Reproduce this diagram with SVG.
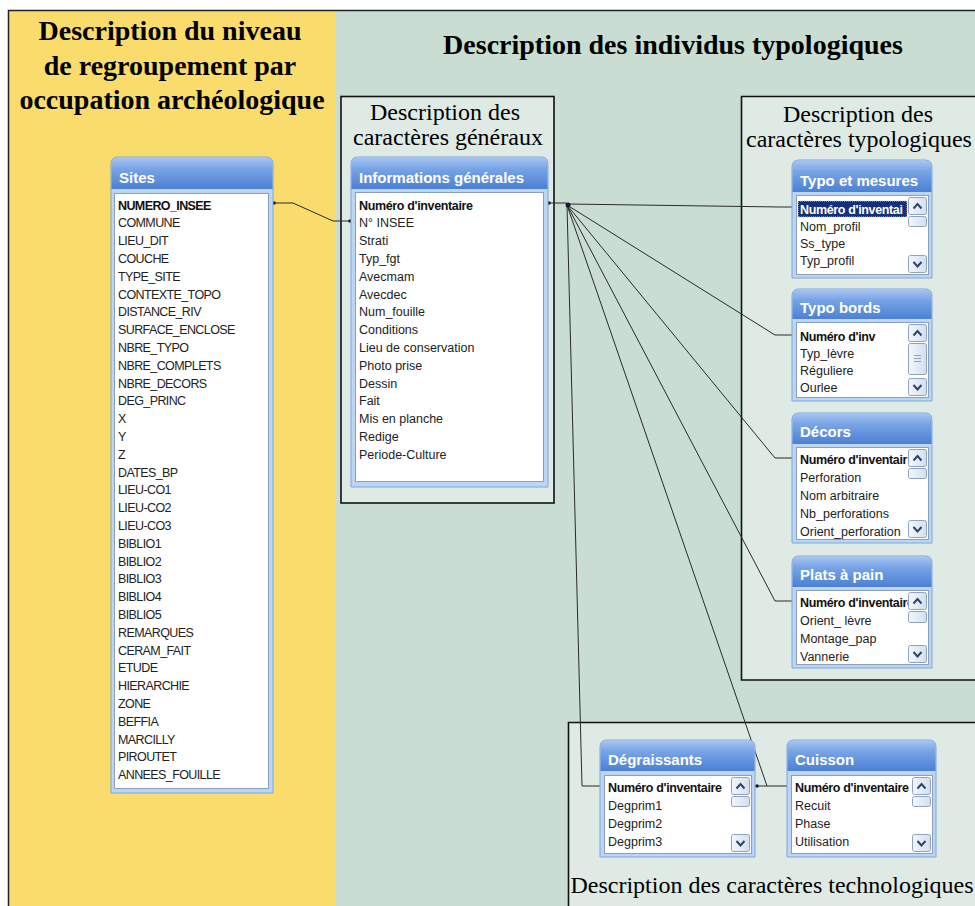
<svg xmlns="http://www.w3.org/2000/svg" width="975" height="906" viewBox="0 0 975 906">
<defs>
<linearGradient id="hdr" x1="0" y1="0" x2="0" y2="1">
<stop offset="0" stop-color="#a7c6f1"/>
<stop offset="0.35" stop-color="#79a4e6"/>
<stop offset="1" stop-color="#4b80d3"/>
</linearGradient>
<linearGradient id="btn" x1="0" y1="0" x2="1" y2="0">
<stop offset="0" stop-color="#f4f7fc"/>
<stop offset="1" stop-color="#d3def0"/>
</linearGradient>
<style>
.title{font-family:"Liberation Serif","Times New Roman",serif;font-weight:bold;font-size:28px;fill:#000;text-anchor:middle}
.sub{font-family:"Liberation Serif","Times New Roman",serif;font-size:24px;fill:#000;text-anchor:middle}
.box{fill:#dfeae5;stroke:#111;stroke-width:1.6}
.boxfill{fill:#dfeae5}
.boxline{fill:none;stroke:#111;stroke-width:1.6}
.win{fill:#bcd5f3;stroke:#7fa6dd;stroke-width:1}
.hd{fill:url(#hdr)}
.lb{fill:#fff;stroke:#8c9fb8;stroke-width:1}
.ht{font-family:"Liberation Sans",Arial,sans-serif;font-weight:bold;font-size:15px;fill:#fff}
.f{font-family:"Liberation Sans",Arial,sans-serif;font-size:12.5px;fill:#222}
.fu{font-family:"Liberation Sans",Arial,sans-serif;font-size:12.5px;fill:#222;letter-spacing:-0.6px}
.fb{font-family:"Liberation Sans",Arial,sans-serif;font-size:12.5px;fill:#111;font-weight:bold;letter-spacing:-0.35px}
.fbu{font-family:"Liberation Sans",Arial,sans-serif;font-size:12.5px;fill:#111;font-weight:bold;letter-spacing:-0.6px}
.sel{font-family:"Liberation Sans",Arial,sans-serif;font-size:12.5px;fill:#fff;font-weight:bold;letter-spacing:-0.35px}
.bt{fill:url(#btn);stroke:#8fa3c0;stroke-width:1}
.chev{fill:none;stroke:#2f4468;stroke-width:2}
.grip{stroke:#8fa3c0;stroke-width:1}
.cn{fill:none;stroke:#2a2a2a;stroke-width:1}
.dot{fill:#1a1a2a}
</style>
</defs>

<!-- background -->
<rect x="0" y="0" width="975" height="906" fill="#ffffff"/>
<rect x="8" y="10" width="328" height="896" fill="#f9dc6b"/>
<rect x="336" y="10" width="639" height="896" fill="#c9ddd3"/>
<path d="M8.5,906 V10.5 H975" fill="none" stroke="#222" stroke-width="1.5"/>

<!-- titles -->
<g id="title-left">
<text class="title" x="170" y="40">Description du niveau</text>
<text class="title" x="170" y="75">de regroupement par</text>
<text class="title" x="172" y="109">occupation archéologique</text>
</g>
<g id="title-right">
<text class="title" x="673" y="54">Description des individus typologiques</text>
</g>

<!-- description boxes -->
<g id="box-generaux">
<rect class="box" x="341" y="96.5" width="213" height="406.5"/>
<text class="sub" x="445" y="120">Description des</text>
<text class="sub" x="448" y="145">caractères généraux</text>
</g>
<g id="box-typo">
<rect class="boxfill" x="741.5" y="96.5" width="240" height="583.5"/>
<path class="boxline" d="M980,96.5 H741.5 V680 H980"/>
<text class="sub" x="858" y="122">Description des</text>
<text class="sub" x="859" y="147">caractères typologiques</text>
</g>
<g id="box-techno">
<rect class="boxfill" x="568.5" y="722.5" width="412" height="190"/>
<path class="boxline" d="M568.5,910 V722.5 H980"/>
<text class="sub" x="772" y="893">Description des caractères technologiques</text>
</g>

<!-- connectors -->
<g id="connectors">
<path class="cn" d="M273,203 H293 L333,221 H351"/>
<path class="cn" d="M548,203 H567"/>
<path class="cn" d="M567,204 L780,207 H796"/>
<path class="cn" d="M567,205 L775,335 H796"/>
<path class="cn" d="M567,205 L775,458 H796"/>
<path class="cn" d="M567,205 L775,601 H796"/>
<path class="cn" d="M567,205 L582,786 H604"/>
<path class="cn" d="M567,205 L767,786"/>
<path class="cn" d="M755,786 H791"/>
<circle class="dot" cx="274" cy="203" r="1.8"/>
<circle class="dot" cx="350" cy="221" r="1.8"/>
<circle class="dot" cx="549" cy="203" r="1.8"/>
<circle class="dot" cx="568" cy="205" r="2.5"/>
<circle class="dot" cx="794" cy="207" r="1.8"/>
<circle class="dot" cx="794" cy="335" r="1.8"/>
<circle class="dot" cx="794" cy="458" r="1.8"/>
<circle class="dot" cx="794" cy="601" r="1.8"/>
<circle class="dot" cx="602" cy="786" r="1.8"/>
<circle class="dot" cx="757" cy="786" r="1.8"/>
<circle class="dot" cx="789" cy="786" r="1.8"/>
</g>

<!-- Sites -->
<g id="sites">
<path class="win" d="M111,793 V164 Q111,157 118,157 H266 Q273,157 273,164 V793 Z"/>
<path class="hd" d="M111.5,189 V164 Q111.5,157.5 118,157.5 H266 Q272.5,157.5 272.5,164 V189 Z"/>
<text class="ht" x="119" y="183">Sites</text>
<rect class="lb" x="114.5" y="193.5" width="154" height="595"/>
<text class="fbu" x="118" y="209.5">NUMERO_INSEE</text>
<text class="fu" x="118" y="227.3">COMMUNE</text>
<text class="fu" x="118" y="245.1">LIEU_DIT</text>
<text class="fu" x="118" y="262.9">COUCHE</text>
<text class="fu" x="118" y="280.7">TYPE_SITE</text>
<text class="fu" x="118" y="298.5">CONTEXTE_TOPO</text>
<text class="fu" x="118" y="316.3">DISTANCE_RIV</text>
<text class="fu" x="118" y="334.1">SURFACE_ENCLOSE</text>
<text class="fu" x="118" y="351.9">NBRE_TYPO</text>
<text class="fu" x="118" y="369.7">NBRE_COMPLETS</text>
<text class="fu" x="118" y="387.5">NBRE_DECORS</text>
<text class="fu" x="118" y="405.3">DEG_PRINC</text>
<text class="fu" x="118" y="423.1">X</text>
<text class="fu" x="118" y="440.9">Y</text>
<text class="fu" x="118" y="458.7">Z</text>
<text class="fu" x="118" y="476.5">DATES_BP</text>
<text class="fu" x="118" y="494.3">LIEU-CO1</text>
<text class="fu" x="118" y="512.1">LIEU-CO2</text>
<text class="fu" x="118" y="529.9">LIEU-CO3</text>
<text class="fu" x="118" y="547.7">BIBLIO1</text>
<text class="fu" x="118" y="565.5">BIBLIO2</text>
<text class="fu" x="118" y="583.3">BIBLIO3</text>
<text class="fu" x="118" y="601.1">BIBLIO4</text>
<text class="fu" x="118" y="618.9">BIBLIO5</text>
<text class="fu" x="118" y="636.7">REMARQUES</text>
<text class="fu" x="118" y="654.5">CERAM_FAIT</text>
<text class="fu" x="118" y="672.3">ETUDE</text>
<text class="fu" x="118" y="690.1">HIERARCHIE</text>
<text class="fu" x="118" y="707.9">ZONE</text>
<text class="fu" x="118" y="725.7">BEFFIA</text>
<text class="fu" x="118" y="743.5">MARCILLY</text>
<text class="fu" x="118" y="761.3">PIROUTET</text>
<text class="fu" x="118" y="779.1">ANNEES_FOUILLE</text>
</g>

<!-- Informations générales -->
<g id="infos-generales">
<path class="win" d="M351,487 V164 Q351,157 358,157 H541 Q548,157 548,164 V487 Z"/>
<path class="hd" d="M351.5,189 V164 Q351.5,157.5 358,157.5 H541 Q547.5,157.5 547.5,164 V189 Z"/>
<text class="ht" x="359" y="183">Informations générales</text>
<rect class="lb" x="355.5" y="192.5" width="188" height="289"/>
<text class="fb" x="359" y="209.5">Numéro d'inventaire</text>
<text class="f" x="359" y="227.3">N° INSEE</text>
<text class="f" x="359" y="245.1">Strati</text>
<text class="f" x="359" y="262.9">Typ_fgt</text>
<text class="f" x="359" y="280.7">Avecmam</text>
<text class="f" x="359" y="298.5">Avecdec</text>
<text class="f" x="359" y="316.3">Num_fouille</text>
<text class="f" x="359" y="334.1">Conditions</text>
<text class="f" x="359" y="351.9">Lieu de conservation</text>
<text class="f" x="359" y="369.7">Photo prise</text>
<text class="f" x="359" y="387.5">Dessin</text>
<text class="f" x="359" y="405.3">Fait</text>
<text class="f" x="359" y="423.1">Mis en planche</text>
<text class="f" x="359" y="440.9">Redige</text>
<text class="f" x="359" y="458.7">Periode-Culture</text>
</g>

<!-- Typo et mesures -->
<g id="typo-mesures">
<path class="win" d="M792,278 V167 Q792,160 799,160 H925 Q932,160 932,167 V278 Z"/>
<path class="hd" d="M792.5,192 V167 Q792.5,160.5 799,160.5 H925 Q931.5,160.5 931.5,167 V192 Z"/>
<text class="ht" x="800" y="186">Typo et mesures</text>
<rect class="lb" x="796.5" y="195.5" width="132" height="79"/>
<rect x="798" y="201" width="109" height="16" fill="#14307a" stroke="#ccd" stroke-dasharray="1 1"/>
<text class="sel" x="800" y="213.5">Numéro d'inventai</text>
<text class="f" x="800" y="230.5">Nom_profil</text>
<text class="f" x="800" y="247.5">Ss_type</text>
<text class="f" x="800" y="265">Typ_profil</text>
<rect class="bt" x="908.5" y="197.5" width="18" height="17" rx="2"/>
<polyline class="chev" points="913.5,208.5 917.5,204 921.5,208.5"/>
<rect class="bt" x="908.5" y="216.5" width="18" height="10" rx="2"/>
<rect class="bt" x="908.5" y="255.5" width="18" height="17" rx="2"/>
<polyline class="chev" points="913.5,262 917.5,266.5 921.5,262"/>
</g>

<!-- Typo bords -->
<g id="typo-bords">
<path class="win" d="M792,401 V296 Q792,289 799,289 H925 Q932,289 932,296 V401 Z"/>
<path class="hd" d="M792.5,319 V296 Q792.5,289.5 799,289.5 H925 Q931.5,289.5 931.5,296 V319 Z"/>
<text class="ht" x="800" y="313">Typo bords</text>
<rect class="lb" x="796.5" y="322.5" width="132" height="75"/>
<text class="fb" x="800" y="340.5">Numéro d'inv</text>
<text class="f" x="800" y="357.5">Typ_lèvre</text>
<text class="f" x="800" y="374.5">Réguliere</text>
<text class="f" x="800" y="392">Ourlee</text>
<rect class="bt" x="908.5" y="324.5" width="18" height="17" rx="2"/>
<polyline class="chev" points="913.5,335.5 917.5,331 921.5,335.5"/>
<rect class="bt" x="908.5" y="343.5" width="18" height="31" rx="2"/>
<path class="grip" d="M914,355.5 H921 M914,358.5 H921 M914,361.5 H921"/>
<rect class="bt" x="908.5" y="378.5" width="18" height="17" rx="2"/>
<polyline class="chev" points="913.5,385 917.5,389.5 921.5,385"/>
</g>

<!-- Décors -->
<g id="decors">
<path class="win" d="M792,543 V420 Q792,413 799,413 H925 Q932,413 932,420 V543 Z"/>
<path class="hd" d="M792.5,444 V420 Q792.5,413.5 799,413.5 H925 Q931.5,413.5 931.5,420 V444 Z"/>
<text class="ht" x="800" y="437">Décors</text>
<rect class="lb" x="796.5" y="447.5" width="132" height="92"/>
<text class="fb" x="800" y="463.5">Numéro d'inventair</text>
<text class="f" x="800" y="481.5">Perforation</text>
<text class="f" x="800" y="499.5">Nom arbitraire</text>
<text class="f" x="800" y="517.5">Nb_perforations</text>
<text class="f" x="800" y="535.5">Orient_perforation</text>
<rect class="bt" x="908.5" y="449.5" width="18" height="17" rx="2"/>
<polyline class="chev" points="913.5,460.5 917.5,456 921.5,460.5"/>
<rect class="bt" x="908.5" y="468.5" width="18" height="10" rx="2"/>
<rect class="bt" x="908.5" y="520.5" width="18" height="17" rx="2"/>
<polyline class="chev" points="913.5,527 917.5,531.5 921.5,527"/>
</g>

<!-- Plats à pain -->
<g id="plats-a-pain">
<path class="win" d="M792,668 V563 Q792,556 799,556 H925 Q932,556 932,563 V668 Z"/>
<path class="hd" d="M792.5,587 V563 Q792.5,556.5 799,556.5 H925 Q931.5,556.5 931.5,563 V587 Z"/>
<text class="ht" x="800" y="580">Plats à pain</text>
<rect class="lb" x="796.5" y="590.5" width="132" height="74"/>
<text class="fb" x="800" y="606.5">Numéro d'inventaire</text>
<text class="f" x="800" y="624.5">Orient_ lèvre</text>
<text class="f" x="800" y="642.5">Montage_pap</text>
<text class="f" x="800" y="660.5">Vannerie</text>
<rect class="bt" x="908.5" y="592.5" width="18" height="17" rx="2"/>
<polyline class="chev" points="913.5,603.5 917.5,599 921.5,603.5"/>
<rect class="bt" x="908.5" y="611.5" width="18" height="11" rx="2"/>
<rect class="bt" x="908.5" y="645.5" width="18" height="17" rx="2"/>
<polyline class="chev" points="913.5,652 917.5,656.5 921.5,652"/>
</g>

<!-- Dégraissants -->
<g id="degraissants">
<path class="win" d="M600,857 V747 Q600,740 607,740 H748 Q755,740 755,747 V857 Z"/>
<path class="hd" d="M600.5,771 V747 Q600.5,740.5 607,740.5 H748 Q754.5,740.5 754.5,747 V771 Z"/>
<text class="ht" x="608" y="765">Dégraissants</text>
<rect class="lb" x="604.5" y="775.5" width="147" height="78"/>
<text class="fb" x="608" y="791.5">Numéro d'inventaire</text>
<text class="f" x="608" y="809.5">Degprim1</text>
<text class="f" x="608" y="827.5">Degprim2</text>
<text class="f" x="608" y="845.5">Degprim3</text>
<rect class="bt" x="731.5" y="777.5" width="18" height="17" rx="2"/>
<polyline class="chev" points="736.5,788.5 740.5,784 744.5,788.5"/>
<rect class="bt" x="731.5" y="796.5" width="18" height="10" rx="2"/>
<rect class="bt" x="731.5" y="834.5" width="18" height="17" rx="2"/>
<polyline class="chev" points="736.5,841 740.5,845.5 744.5,841"/>
</g>

<!-- Cuisson -->
<g id="cuisson">
<path class="win" d="M787,857 V747 Q787,740 794,740 H929 Q936,740 936,747 V857 Z"/>
<path class="hd" d="M787.5,771 V747 Q787.5,740.5 794,740.5 H929 Q935.5,740.5 935.5,747 V771 Z"/>
<text class="ht" x="795" y="765">Cuisson</text>
<rect class="lb" x="791.5" y="775.5" width="141" height="78"/>
<text class="fb" x="795" y="791.5">Numéro d'inventaire</text>
<text class="f" x="795" y="809.5">Recuit</text>
<text class="f" x="795" y="827.5">Phase</text>
<text class="f" x="795" y="845.5">Utilisation</text>
<rect class="bt" x="912.5" y="777.5" width="18" height="17" rx="2"/>
<polyline class="chev" points="917.5,788.5 921.5,784 925.5,788.5"/>
<rect class="bt" x="912.5" y="796.5" width="18" height="10" rx="2"/>
<rect class="bt" x="912.5" y="834.5" width="18" height="17" rx="2"/>
<polyline class="chev" points="917.5,841 921.5,845.5 925.5,841"/>
</g>
</svg>
